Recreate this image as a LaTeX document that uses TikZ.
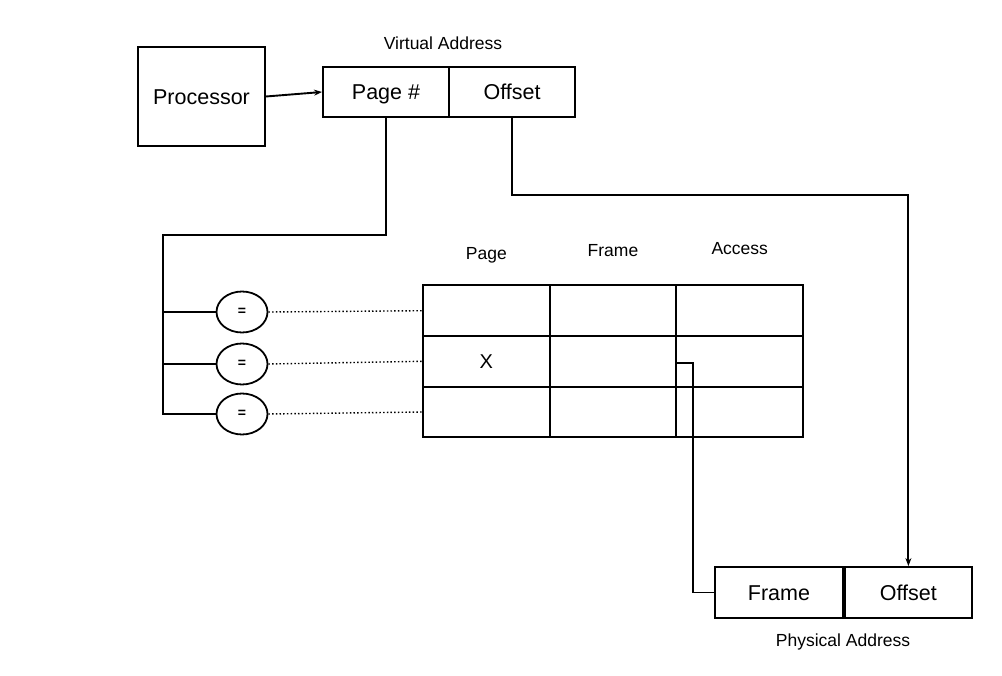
\documentclass[tikz,border=0pt]{standalone}
\usepackage{fontspec}
\setmainfont{Liberation Sans}
\usepackage{tikz}
\usetikzlibrary{positioning,arrows.meta,shapes.geometric}

\tikzset{
  addrbox/.style={draw, line width=1.9pt, inner sep=0pt, minimum height=50pt,
    minimum width=126pt, text height=15.4pt, text depth=0pt,
    font=\fontsize{21.5}{21.5}\selectfont},
  cell/.style={draw, line width=1.9pt, inner sep=0pt, minimum width=126.7pt,
    minimum height=50.7pt},
  cmp/.style={draw, ellipse, line width=1.8pt, inner sep=0pt, minimum width=51pt,
    minimum height=41pt, font=\bfseries\fontsize{14}{14}\selectfont},
  lbl/.style={inner sep=0pt, text height=12.6pt, text depth=0pt,
    font=\fontsize{17.5}{17.5}\selectfont},
  wire/.style={line width=1.9pt},
}

\begin{document}
\begin{tikzpicture}[x=1pt, y=-1pt]
\useasboundingbox (0,0) rectangle (1002,676);

% Processor and virtual address
\node[addrbox, minimum width=127pt, minimum height=99pt] (proc) at (201.5,96.5) {Processor};
\node[addrbox] (page) at (386,92) {Page \#};
\node[addrbox] (voff) at (512,92) {Offset};
\node[lbl] (vlabel) at (443,43) {Virtual Address};
\draw[wire, -{Stealth[length=8pt,width=6pt]}] (proc.east) -- (page.west);

% Page table
\foreach \r/\y in {1/310.7,2/361.3,3/412} {
  \foreach \c/\x in {1/486.3,2/613,3/739.7} {
    \node[cell] (c\r\c) at (\x,\y) {};
  }
}
\node[lbl] (hpage) at (c11 |- 0,253) {Page};
\node[lbl] (hframe) at (c12 |- 0,250) {Frame};
\node[lbl] (haccess) at (c13 |- 0,248) {Access};
\node[font=\fontsize{20}{20}\selectfont, inner sep=0pt, text height=14.3pt, text depth=0pt] (xmark) at (c21) {X};

% Comparators
\foreach \i/\y in {1/312,2/364,3/414} {
  \node[cmp] (eq\i) at (242,\y) {=};
  \draw[line width=1.4pt, dash pattern=on 1.5pt off 2.2pt] (eq\i.east) -- (c\i1.west);
}
\coordinate (bus) at (163,235);
\draw[wire] (page.south) |- (bus) |- (eq3.west);
\foreach \i in {1,2} {
  \draw[wire] (bus |- eq\i) -- (eq\i.west);
}

% Physical address
\node[addrbox, minimum width=128pt, minimum height=51pt] (pframe) at (779,592.5) {Frame};
\node[addrbox, minimum width=127pt, minimum height=51pt, right=0pt of pframe] (poff) {Offset};
\node[lbl] (plabel) at (843,640) {Physical Address};

\draw[wire] ([yshift=-2pt]c23.west) -- ++(18,0) |- (pframe.west);
\draw[wire, -{Stealth[length=8pt,width=6pt]}] (voff.south) -- ++(0,77) -| (poff.north);
\end{tikzpicture}
\end{document}
